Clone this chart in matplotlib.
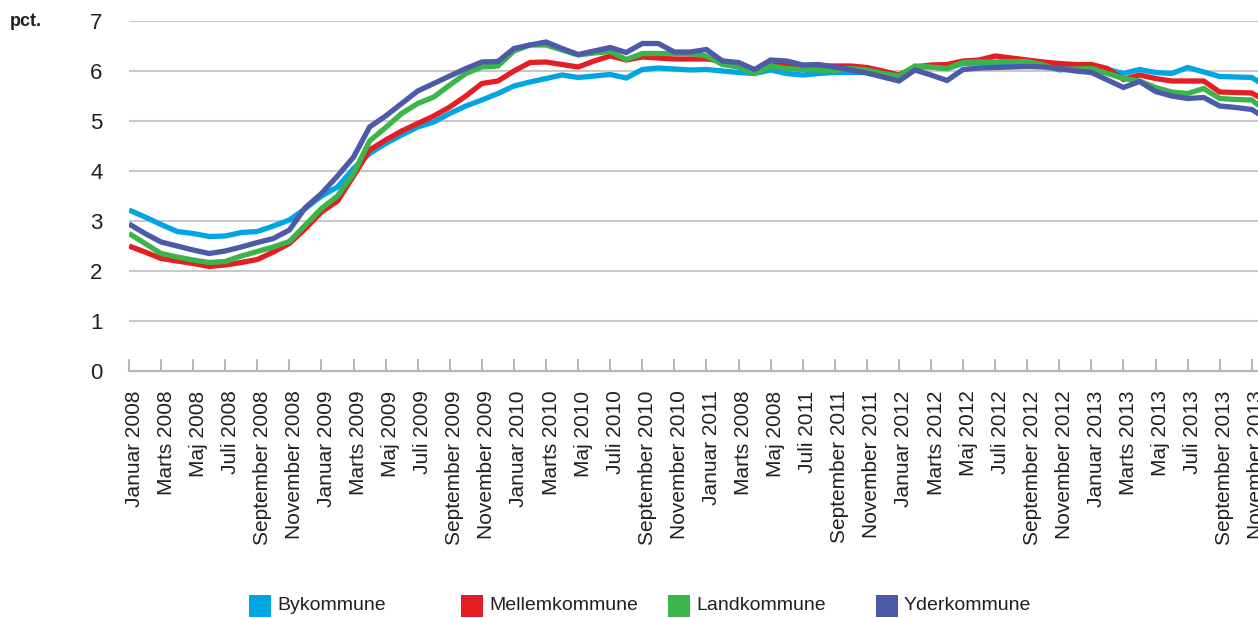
import numpy as np
import matplotlib
matplotlib.use("Agg")
import matplotlib.pyplot as plt
import matplotlib.transforms as mtransforms
from matplotlib.patches import Rectangle

plt.rcParams['font.family'] = ['Liberation Sans', 'DejaVu Sans']

# --- data: monthly values, Januar 2008 .. December 2013 (pct.) ---
series_names = ["Bykommune", "Mellemkommune", "Landkommune", "Yderkommune"]
series_colors = ["#00A6E2", "#E31E24", "#3AB54A", "#4C5AA8"]

bykommune = [3.22, 3.08, 2.93, 2.79, 2.75, 2.69, 2.70, 2.77, 2.79, 2.90, 3.02, 3.25,
             3.50, 3.68, 4.05, 4.35, 4.55, 4.72, 4.88, 4.98, 5.15, 5.30, 5.42, 5.55,
             5.70, 5.78, 5.85, 5.92, 5.87, 5.90, 5.93, 5.86, 6.03, 6.06, 6.04, 6.02,
             6.03, 6.00, 5.97, 5.95, 6.02, 5.95, 5.92, 5.95, 5.97, 5.97, 5.97, 5.90,
             5.88, 6.08, 6.08, 6.05, 6.15, 6.16, 6.17, 6.17, 6.17, 6.13, 6.10, 6.09,
             6.10, 6.03, 5.95, 6.03, 5.97, 5.95, 6.07, 5.98, 5.89, 5.88, 5.87, 5.67]

mellemkommune = [2.50, 2.38, 2.25, 2.20, 2.15, 2.09, 2.12, 2.17, 2.23, 2.38, 2.55, 2.85,
                 3.18, 3.40, 3.90, 4.42, 4.62, 4.80, 4.95, 5.10, 5.28, 5.50, 5.75, 5.80,
                 6.00, 6.17, 6.18, 6.13, 6.08, 6.20, 6.30, 6.22, 6.28, 6.26, 6.24, 6.24,
                 6.24, 6.20, 6.10, 5.98, 6.12, 6.13, 6.10, 6.10, 6.10, 6.10, 6.07, 6.00,
                 5.92, 6.08, 6.12, 6.13, 6.20, 6.22, 6.30, 6.26, 6.22, 6.18, 6.15, 6.13,
                 6.13, 6.05, 5.83, 5.92, 5.85, 5.80, 5.80, 5.80, 5.58, 5.57, 5.56, 5.38]

landkommune = [2.75, 2.55, 2.35, 2.28, 2.22, 2.17, 2.19, 2.30, 2.39, 2.48, 2.59, 2.92,
               3.25, 3.50, 3.95, 4.60, 4.87, 5.15, 5.35, 5.48, 5.72, 5.95, 6.08, 6.10,
               6.40, 6.52, 6.52, 6.42, 6.32, 6.36, 6.39, 6.23, 6.35, 6.35, 6.35, 6.35,
               6.30, 6.13, 6.08, 5.95, 6.10, 6.05, 6.03, 6.02, 6.01, 6.05, 6.02, 5.95,
               5.90, 6.10, 6.08, 6.05, 6.17, 6.18, 6.18, 6.19, 6.19, 6.12, 6.02, 6.04,
               6.05, 5.95, 5.85, 5.80, 5.67, 5.58, 5.55, 5.65, 5.45, 5.43, 5.42, 5.17]

yderkommune = [2.94, 2.75, 2.58, 2.50, 2.42, 2.35, 2.40, 2.48, 2.57, 2.65, 2.82, 3.27,
               3.55, 3.90, 4.28, 4.88, 5.10, 5.35, 5.60, 5.75, 5.90, 6.05, 6.18, 6.19,
               6.45, 6.52, 6.58, 6.45, 6.33, 6.40, 6.47, 6.37, 6.55, 6.55, 6.38, 6.38,
               6.43, 6.20, 6.17, 6.03, 6.22, 6.20, 6.12, 6.13, 6.08, 6.02, 5.96, 5.88,
               5.80, 6.02, 5.92, 5.81, 6.03, 6.06, 6.07, 6.08, 6.09, 6.08, 6.05, 6.00,
               5.97, 5.82, 5.67, 5.79, 5.59, 5.50, 5.45, 5.47, 5.30, 5.27, 5.23, 5.03]

tick_labels = ["Januar 2008", "Marts 2008", "Maj 2008", "Juli 2008", "September 2008", "November 2008",
               "Januar 2009", "Marts 2009", "Maj 2009", "Juli 2009", "September 2009", "November 2009",
               "Januar 2010", "Marts 2010", "Maj 2010", "Juli 2010", "September 2010", "November 2010",
               "Januar 2011", "Marts 2008", "Maj 2008", "Juli 2011", "September 2011", "November 2011",
               "Januar 2012", "Marts 2012", "Maj 2012", "Juli 2012", "September 2012", "November 2012",
               "Januar 2013", "Marts 2013", "Maj 2013", "Juli 2013", "September 2013", "November 2013"]

all_series = [bykommune, mellemkommune, landkommune, yderkommune]

# --- figure / axes (axes run past the right edge, like the cropped original) ---
W, H = 1258, 618
fig = plt.figure(figsize=(W / 100, H / 100), dpi=100)
px_per_month = 16.04
n = len(bykommune)
ax = fig.add_axes([129 / W, 247 / H, (n - 1) * px_per_month / W, 350 / H])

x = np.arange(n)
for vals, col in zip(all_series, series_colors):
    ax.plot(x, vals, color=col, lw=3.8, solid_joinstyle='miter', solid_capstyle='butt', zorder=3)

ax.set_xlim(0, n - 1)
ax.set_ylim(0, 7)
ax.set_yticks(range(0, 8))
for v in range(1, 8):
    ax.axhline(v, color="#C8C8C8", lw=1.5, zorder=1)

ax.set_xticks(x[::2])
ax.set_xticklabels(tick_labels, rotation=90, fontsize=15, color="#231F20")
ax.tick_params(axis='x', direction='in', length=9, width=1.2, color="#A8A8A8", pad=14)
ax.tick_params(axis='y', length=0, pad=19, labelsize=16, labelcolor="#231F20")

# labels sit a little right of their ticks in the original
shift = mtransforms.ScaledTranslation(5 / 100, 0, fig.dpi_scale_trans)
for lbl in ax.get_xticklabels():
    lbl.set_transform(lbl.get_transform() + shift)

for s in ["top", "right", "left"]:
    ax.spines[s].set_visible(False)
ax.spines["bottom"].set_color("#B8B8B8")
ax.spines["bottom"].set_linewidth(1.6)

fig.text(10 / W, 1 - 21 / H, "pct.", fontsize=13, fontweight='bold', va='center', ha='left', color="#231F20")

# --- legend ---
leg_x = [249, 461, 668, 876]
for lx, name, col in zip(leg_x, series_names, series_colors):
    fig.add_artist(Rectangle((lx / W, 1 - 617 / H), 22 / W, 22 / H, transform=fig.transFigure,
                             facecolor=col, edgecolor='none'))
    fig.text((lx + 28) / W, 1 - 606 / H, name, fontsize=14, va='center', ha='left', color="#231F20")

fig.savefig("out.png", dpi=100)
